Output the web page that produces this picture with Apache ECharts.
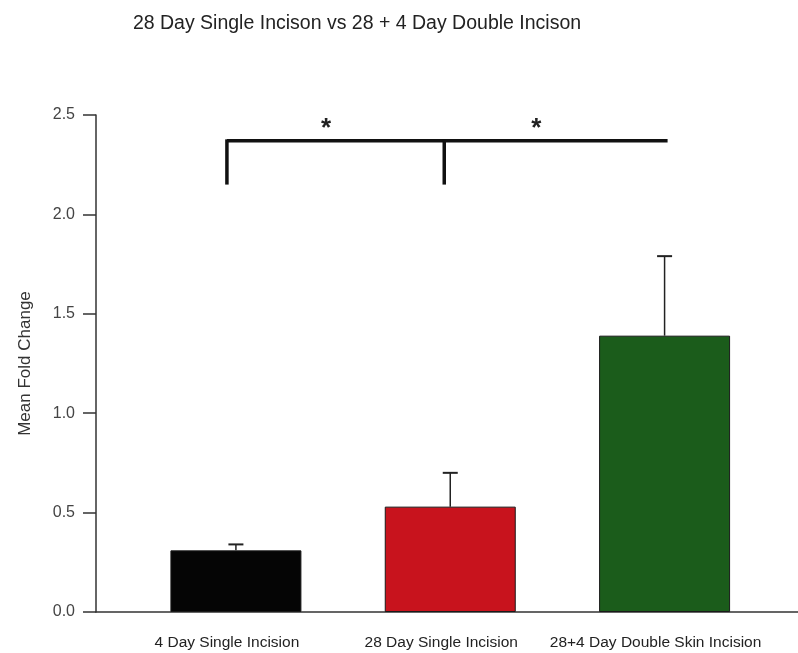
<!DOCTYPE html>
<html>
<head>
<meta charset="utf-8">
<script src="https://cdn.jsdelivr.net/npm/echarts@6/dist/echarts.min.js"></script>
<style>html,body{margin:0;padding:0;background:#fff;}#chart{width:798px;height:653px;}</style>
</head>
<body>
<div id="chart"></div>
<script>
// ---- data ----
const categories = ['4 Day Single Incision', '28 Day Single Incision', '28+4 Day Double Skin Incision'];
const meanValues = [0.31, 0.53, 1.39];
const errorValues = [0.03, 0.17, 0.40];
const barColors = ['#050505', '#c8131d', '#1b5c1b'];
const yTicks = [0.0, 0.5, 1.0, 1.5, 2.0, 2.5];
// significance bracket (group indices and levels in data units)
const bracketGroups = [0, 1, 2];
const bracketLevel = 2.37;
const bracketDrop = 2.15;
const starLevel = 2.46;
const starPairs = [[0, 1], [1, 2]];

const FONT = '"Liberation Sans", Arial, sans-serif';
const chart = echarts.init(document.getElementById('chart'));

const option = {
  backgroundColor: '#ffffff',
  animation: false,
  title: {
    text: '28 Day Single Incison vs 28 + 4 Day Double Incison',
    left: 352, textAlign: 'center', top: 9,
    textStyle: { fontFamily: FONT, fontSize: 19.5, fontWeight: 'normal', color: '#222' }
  },
  grid: [
    { left: 128.75, right: 26.25, top: 115, bottom: 41 },
    { left: 96, right: 0, top: 115, bottom: 41 }
  ],
  xAxis: [
    {
      type: 'category', gridIndex: 0, data: categories,
      axisLine: { show: false }, axisTick: { show: false },
      axisLabel: { fontFamily: FONT, fontSize: 15.5, color: '#222', margin: 23, interval: 0, padding: [0, 18, 0, 0] }
    },
    {
      type: 'value', gridIndex: 1, min: 0, max: 1,
      axisLine: { show: true, onZero: false, lineStyle: { color: '#333', width: 1.5 } },
      axisTick: { show: false }, axisLabel: { show: false }, splitLine: { show: false }
    }
  ],
  yAxis: [
    { type: 'value', gridIndex: 0, min: 0, max: 2.5, show: false },
    {
      type: 'value', gridIndex: 1, min: yTicks[0], max: yTicks[yTicks.length - 1], interval: 0.5,
      name: 'Mean Fold Change', nameLocation: 'middle', nameGap: 62,
      nameTextStyle: { fontFamily: FONT, fontSize: 17, color: '#333' },
      axisLine: { show: true, lineStyle: { color: '#333', width: 1.5 } },
      axisTick: { show: true, inside: false, length: 13, lineStyle: { color: '#333', width: 1.5 } },
      axisLabel: { fontFamily: FONT, fontSize: 16, color: '#444', margin: 21, formatter: v => v.toFixed(1) },
      splitLine: { show: false }
    }
  ],
  series: [
    {
      type: 'bar', xAxisIndex: 0, yAxisIndex: 0, barWidth: 131,
      data: meanValues.map((v, i) => ({
        value: v,
        itemStyle: { color: barColors[i], borderColor: '#1a1a1a', borderWidth: 1 }
      })),
      z: 2
    },
    {
      type: 'custom', xAxisIndex: 0, yAxisIndex: 0, z: 3,
      data: meanValues.map((v, i) => [i, v, v + errorValues[i]]),
      renderItem: function (params, api) {
        const base = api.coord([api.value(0), api.value(1)]);
        const top = api.coord([api.value(0), api.value(2)]);
        const capHalf = 7.5;
        const style = { stroke: '#222', lineWidth: 1.5 };
        return {
          type: 'group',
          children: [
            { type: 'line', shape: { x1: base[0], y1: base[1], x2: top[0], y2: top[1] }, style },
            { type: 'line', shape: { x1: top[0] - capHalf, y1: top[1], x2: top[0] + capHalf, y2: top[1] }, style: { stroke: '#222', lineWidth: 2 } }
          ]
        };
      }
    },
    {
      type: 'custom', xAxisIndex: 0, yAxisIndex: 0, z: 4,
      data: [[0]],
      renderItem: function (params, api) {
        const xOff = [-9, -6, 3];
        const pts = bracketGroups.map((g, k) => {
          const p = api.coord([g, bracketLevel]);
          return [p[0] + xOff[k], p[1]];
        });
        const dropY = api.coord([0, bracketDrop])[1];
        const starY = api.coord([0, starLevel])[1];
        const st = { stroke: '#111', lineWidth: 3.5 };
        const children = [
          { type: 'line', shape: { x1: pts[0][0], y1: pts[0][1], x2: pts[2][0], y2: pts[2][1] }, style: st },
          { type: 'line', shape: { x1: pts[0][0], y1: pts[0][1] - 1.5, x2: pts[0][0], y2: dropY }, style: st },
          { type: 'line', shape: { x1: pts[1][0], y1: pts[1][1] - 1.5, x2: pts[1][0], y2: dropY }, style: st }
        ];
        starPairs.forEach((pair, k) => {
          const a = api.coord([pair[0], starLevel]);
          const b = api.coord([pair[1], starLevel]);
          children.push({
            type: 'text',
            style: {
              text: '*', x: (a[0] + b[0]) / 2 - (k === 0 ? 17 : 21), y: starY + 6,
              align: 'center', verticalAlign: 'middle',
              font: 'bold 26px "Liberation Sans", Arial, sans-serif', fill: '#222'
            }
          });
        });
        return { type: 'group', children };
      }
    }
  ]
};
chart.setOption(option);
</script>
</body>
</html>
